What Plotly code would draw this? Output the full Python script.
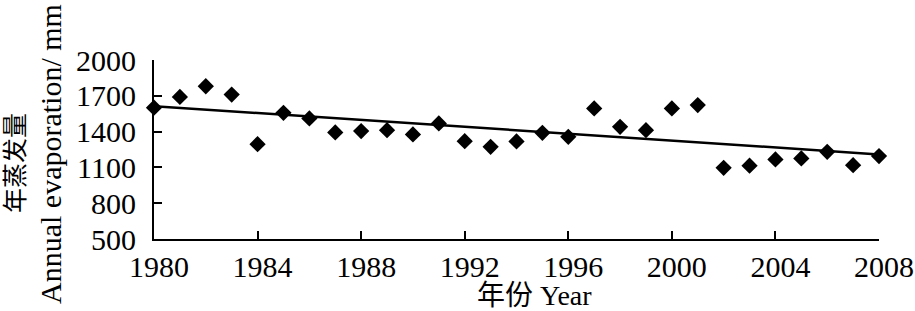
import plotly.graph_objects as go

years = list(range(1980, 2009))
evaporation = [1600, 1690, 1780, 1710, 1295, 1557, 1510, 1393, 1404, 1412, 1376, 1468,
               1320, 1273, 1318, 1390, 1356, 1594, 1440, 1412, 1594, 1622, 1097, 1114,
               1167, 1175, 1231, 1119, 1195]
trend_years = [1980, 2008]
trend_values = [1613, 1209]
x_ticks = [1980, 1984, 1988, 1992, 1996, 2000, 2004, 2008]
y_ticks = [500, 800, 1100, 1400, 1700, 2000]

SERIF = "Liberation Serif, Times New Roman, serif"
CJK = "Liberation Serif, Noto Sans CJK SC, serif"

fig = go.Figure()
fig.add_trace(go.Scatter(x=trend_years, y=trend_values, mode="lines",
                         line=dict(color="black", width=2.5), cliponaxis=False,
                         showlegend=False, hoverinfo="skip"))
fig.add_trace(go.Scatter(x=years, y=evaporation, mode="markers",
                         marker=dict(symbol="diamond", size=12.5, color="black"),
                         cliponaxis=False, showlegend=False))

fig.update_layout(
    width=915, height=311,
    margin=dict(l=154, r=36, t=60, b=72),
    plot_bgcolor="white", paper_bgcolor="white",
    font=dict(family=SERIF, size=30, color="black"),
    xaxis=dict(range=[1980, 2008], tickvals=x_ticks, ticks="inside", ticklen=8,
               tickwidth=1.5, tickcolor="black", showline=True, linecolor="black",
               linewidth=2, showgrid=False, zeroline=False, ticklabelstandoff=0,
               ticklabelshift=5, automargin=False, tickfont=dict(family=SERIF, size=30)),
    yaxis=dict(range=[500, 2000], tickvals=y_ticks, ticks="inside", ticklen=8,
               tickwidth=1.5, tickcolor="black", showline=True, linecolor="black",
               linewidth=2, showgrid=False, zeroline=False, ticklabelstandoff=10,
               automargin=False, tickfont=dict(family=SERIF, size=30)),
    annotations=[
        dict(text="年份 Year", xref="paper", yref="paper",
             x=(534 - 154) / 725, y=(239 - 295) / 179, xanchor="center", yanchor="middle",
             showarrow=False, font=dict(family=CJK, size=28)),
        dict(text="年蒸发量", xref="paper", yref="paper", textangle=-90,
             x=(15 - 154) / 725, y=(239 - 163) / 179, xanchor="center", yanchor="middle",
             showarrow=False, font=dict(family=CJK, size=25)),
        dict(text="Annual evaporation/ mm", xref="paper", yref="paper", textangle=-90,
             x=(50 - 154) / 725, y=(239 - 154) / 179, xanchor="center", yanchor="middle",
             showarrow=False, font=dict(family=SERIF, size=30)),
    ],
)

fig.write_html("out.html")
